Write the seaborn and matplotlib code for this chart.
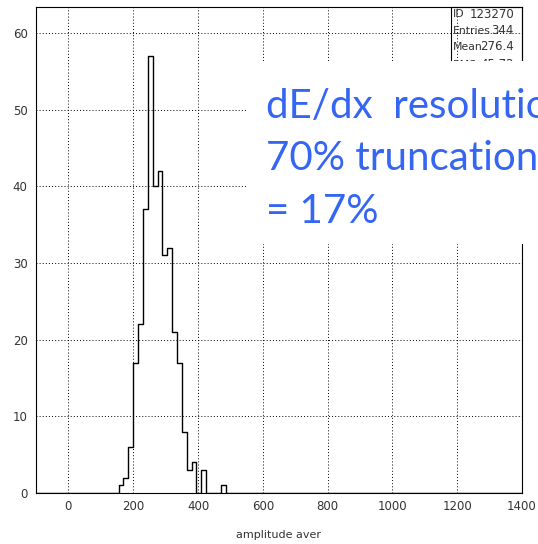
import matplotlib
matplotlib.use("Agg")
import matplotlib.pyplot as plt
import seaborn as sns
import numpy as np
import pandas as pd
from matplotlib.patches import Rectangle
from matplotlib.ticker import MultipleLocator, FixedLocator

# ---- data ----
bin_left = [155, 170, 185, 200, 215, 230, 245, 260, 275, 290, 305, 320, 335, 350, 365, 380, 410, 470]
counts = [1, 2, 6, 17, 22, 37, 57, 40, 42, 31, 32, 21, 17, 8, 3, 4, 3, 1]
bin_width = 15
x_range = (-100, 1400)
y_max = 63.4
xticks = [0, 200, 400, 600, 800, 1000, 1200, 1400]
yticks = [0, 10, 20, 30, 40, 50, 60]
stats_names = ["ID", "Entries", "Mean", "RMS"]
stats_values = ["123270", "344", "276.4", "45.72"]
note_lines = ["dE/dx  resolution", "70% truncation", "= 17%"]
x_title = "amplitude aver"

sns.set_theme(style="white")
plt.rcParams['font.family'] = ['DejaVu Sans']

W, H = 538, 544
fig = plt.figure(figsize=(W / 100, H / 100), dpi=100)
ax_l, ax_r, ax_t, ax_b = 36, 522, 7, 493
ax = fig.add_axes([ax_l / W, 1 - ax_b / H, (ax_r - ax_l) / W, (ax_b - ax_t) / H])

df = pd.DataFrame({"x": [b + bin_width / 2 for b in bin_left], "w": counts})
edges = [float(e) for e in np.arange(x_range[0], x_range[1] + bin_width / 2, bin_width)]
sns.histplot(data=df, x="x", weights="w", bins=edges, element="step", fill=False,
             color="black", linewidth=1.0, ax=ax, zorder=3)

ax.set_xlim(*x_range)
ax.set_ylim(0, y_max)
ax.xaxis.set_major_locator(FixedLocator(xticks))
ax.yaxis.set_major_locator(FixedLocator(yticks))
ax.xaxis.set_minor_locator(MultipleLocator(50))
ax.yaxis.set_minor_locator(MultipleLocator(2))
ax.grid(True, which="major", color="black", linestyle=(0, (1, 2.2)), linewidth=0.7)
ax.set_axisbelow(True)

ax.tick_params(axis="both", which="both", direction="in", top=False, right=False,
               colors="black", labelcolor="#333333", labelsize=8.5)
ax.tick_params(axis="y", which="major", length=5.5, width=0.8, pad=6)
ax.tick_params(axis="y", which="minor", length=4, width=0.8)
ax.tick_params(axis="x", which="major", length=4, width=0.8, pad=5)
ax.tick_params(axis="x", which="minor", length=3, width=0.8)
ax.set_ylabel("")
ax.set_xlabel(x_title, fontsize=8, color="#333333")
ax.xaxis.set_label_coords(0.5, (ax_b - 535) / (ax_b - ax_t))
ax.xaxis.label.set_va("center")
for s in ax.spines.values():
    s.set_visible(True)
    s.set_color("black")
    s.set_linewidth(0.8)

# ---- statistics box (transparent) ----
bx_l, bx_r, bx_t, bx_b = 451, 522, 7, 80
fig.add_artist(Rectangle((bx_l / W, 1 - bx_b / H), (bx_r - bx_l) / W, (bx_b - bx_t) / H,
                         transform=fig.transFigure, fill=False, edgecolor="black",
                         linewidth=0.8, zorder=5))
row_y = [14, 30.5, 47, 65]
for name, val, yy in zip(stats_names, stats_values, row_y):
    fig.text(453 / W, 1 - yy / H, name, fontsize=7.8, color="#333333", ha="left", va="center", zorder=5)
    fig.text(514 / W, 1 - yy / H, val, fontsize=8.5, color="#333333", ha="right", va="center", zorder=5)

# ---- white overlay with blue annotation ----
ov_l, ov_r, ov_t, ov_b = 246, 540, 61, 244
fig.add_artist(Rectangle((ov_l / W, 1 - ov_b / H), (ov_r - ov_l) / W, (ov_b - ov_t) / H,
                         transform=fig.transFigure, facecolor="white", edgecolor="none", zorder=10))
note_y = [118, 170.5, 223]
for line, yy in zip(note_lines, note_y):
    fig.text(266 / W, 1 - yy / H, line, fontsize=29, color="#3566f2", family="Lato",
             ha="left", va="baseline", zorder=11)

fig.savefig("out.png", dpi=100)
